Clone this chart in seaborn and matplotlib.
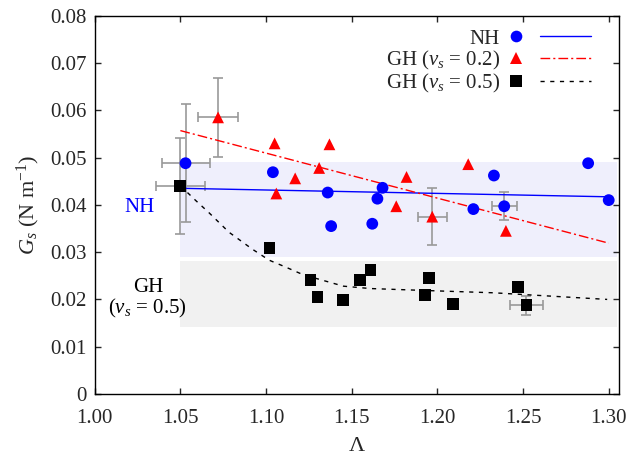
import numpy as np
import pandas as pd
import matplotlib
matplotlib.use("Agg")
import matplotlib.pyplot as plt
import seaborn as sns
from matplotlib.lines import Line2D
from matplotlib.legend_handler import HandlerBase

# --- data ---
nh_x = [1.053, 1.104, 1.136, 1.138, 1.162, 1.165, 1.168, 1.221, 1.233, 1.239, 1.288, 1.300]
nh_y = [0.0488, 0.0469, 0.0426, 0.0355, 0.0360, 0.0413, 0.0436, 0.0391, 0.0462, 0.0397, 0.0488, 0.0410]

gh2_x = [1.072, 1.105, 1.106, 1.117, 1.131, 1.137, 1.176, 1.182, 1.197, 1.218, 1.240]
gh2_y = [0.0585, 0.0530, 0.0424, 0.0456, 0.0478, 0.0528, 0.0397, 0.0459, 0.0375, 0.0486, 0.0345]

gh5_x = [1.050, 1.102, 1.126, 1.130, 1.145, 1.155, 1.161, 1.193, 1.195, 1.209, 1.247, 1.252]
gh5_y = [0.0440, 0.0309, 0.0241, 0.0205, 0.0199, 0.0241, 0.0262, 0.0209, 0.0246, 0.0190, 0.0227, 0.0188]

# points carrying error bars
err_x = [1.053, 1.072, 1.050, 1.197, 1.239, 1.252]
err_y = [0.0488, 0.0585, 0.0440, 0.0375, 0.0397, 0.0188]
err_dx = [0.0140, 0.0117, 0.0142, 0.0086, 0.0074, 0.0096]
err_dy = [0.0125, 0.0083, 0.0101, 0.0060, 0.0030, 0.0020]

# fitted curves
fit_nh_x = [1.05, 1.30]
fit_nh_y = [0.0435, 0.0417]
fit_gh2_x = [1.05, 1.30]
fit_gh2_y = [0.0557, 0.0319]
fit_gh5_x = [1.050, 1.0547, 1.059, 1.0668, 1.0784, 1.0921, 1.1018, 1.1117, 1.1218,
             1.1452, 1.1608, 1.200, 1.2328, 1.2991]
fit_gh5_y = [0.0440, 0.0424, 0.0409, 0.0383, 0.0342, 0.0306, 0.0283, 0.0268, 0.0252,
             0.0228, 0.0223, 0.0218, 0.0214, 0.0200]

# shaded ranges
band_x = [1.05, 1.305]
nh_band = (0.0290, 0.0490)
gh_band = (0.0141, 0.0282)

labels = ["NH", r"GH ($v_s$ = 0.2)", r"GH ($v_s$ = 0.5)"]
xticks = [1.00, 1.05, 1.10, 1.15, 1.20, 1.25, 1.30]
xtick_labels = ["1.00", "1.05", "1.10", "1.15", "1.20", "1.25", "1.30"]
yticks = [0, 0.01, 0.02, 0.03, 0.04, 0.05, 0.06, 0.07, 0.08]
ytick_labels = ["0", "0.01", "0.02", "0.03", "0.04", "0.05", "0.06", "0.07", "0.08"]

COLORS = {labels[0]: "#0000ff", labels[1]: "#ff0000", labels[2]: "#000000"}
MARKERS = {labels[0]: "o", labels[1]: "^", labels[2]: "s"}
STYLES = {labels[0]: "-", labels[1]: (0, (7, 2.2, 1.5, 2.2)), labels[2]: (0, (3, 4))}

sns.set_style("ticks")
plt.rcParams["font.family"] = ["Liberation Serif", "DejaVu Serif"]
plt.rcParams["mathtext.fontset"] = "custom"
plt.rcParams["mathtext.rm"] = "Liberation Serif"
plt.rcParams["mathtext.it"] = "Liberation Serif:italic"
plt.rcParams["font.size"] = 15

df = pd.DataFrame({
    "lam": nh_x + gh2_x + gh5_x,
    "G": nh_y + gh2_y + gh5_y,
    "group": [labels[0]] * len(nh_x) + [labels[1]] * len(gh2_x) + [labels[2]] * len(gh5_x),
})

fig = plt.figure(figsize=(6.26, 4.55), dpi=100)
ax = fig.add_axes([0.1513, 0.1341, 0.8375, 0.8314])

ax.fill_between(band_x, nh_band[0], nh_band[1], color="#efeffc", lw=0, zorder=0)
ax.fill_between(band_x, gh_band[0], gh_band[1], color="#f1f1f1", lw=0, zorder=0)

ax.errorbar(err_x, err_y, xerr=err_dx, yerr=err_dy, fmt="none", ecolor="#999999",
            elinewidth=1.2, capsize=3.5, capthick=1.2, zorder=1)

sns.lineplot(x=fit_nh_x, y=fit_nh_y, ax=ax, color=COLORS[labels[0]], lw=1.0,
             linestyle=STYLES[labels[0]], zorder=2)
sns.lineplot(x=fit_gh2_x, y=fit_gh2_y, ax=ax, color=COLORS[labels[1]], lw=1.0,
             linestyle=STYLES[labels[1]], zorder=2)
sns.lineplot(x=fit_gh5_x, y=fit_gh5_y, ax=ax, color=COLORS[labels[2]], lw=1.0,
             linestyle=STYLES[labels[2]], zorder=2, sort=False)

sns.scatterplot(data=df, x="lam", y="G", hue="group", style="group", palette=COLORS,
                markers=MARKERS, s=72, linewidth=0, legend=False, ax=ax, zorder=3)

ax.text(1.026, 0.0385, "NH", color="#0000ff", ha="center", va="baseline", fontsize=15)
ax.text(1.031, 0.0216, "GH", color="black", ha="center", va="baseline", fontsize=15)
ax.text(1.031, 0.0170, r"($v_s$ = 0.5)", color="black", ha="center", va="baseline", fontsize=15)


class MarkerThenLine(HandlerBase):
    # gnuplot-like key: marker, gap, then the line sample
    def create_artists(self, legend, orig_handle, xdescent, ydescent, width, height, fontsize, trans):
        mk, ln = orig_handle
        y = 0.5 * height - ydescent
        x0 = -xdescent
        m = Line2D([x0 + 0.4 * fontsize], [y])
        m.update_from(mk)
        m.set_transform(trans)
        l = Line2D([x0 + 1.55 * fontsize, x0 + width], [y, y])
        l.update_from(ln)
        l.set_transform(trans)
        return [m, l]


handles = []
for lab in labels:
    mk = Line2D([], [], linestyle="none", marker=MARKERS[lab], markersize=8.4,
                color=COLORS[lab], markeredgewidth=0)
    ln = Line2D([], [], linestyle=STYLES[lab], color=COLORS[lab], lw=1.0)
    handles.append((mk, ln))

ax.legend(handles, labels, handler_map={tuple: MarkerThenLine()}, loc="upper right",
          bbox_to_anchor=(0.9466, 0.965), frameon=False, markerfirst=False,
          handlelength=4.0, handletextpad=0.37, labelspacing=0.0, borderpad=0,
          borderaxespad=0, fontsize=15)

ax.set_xlim(1.0, 1.306)
ax.set_ylim(0, 0.08)
ax.set_xticks(xticks)
ax.set_xticklabels(xtick_labels)
ax.set_yticks(yticks)
ax.set_yticklabels(ytick_labels)
ax.tick_params(direction="in", length=4, width=1, top=True, right=True, labelsize=15, pad=11)
ax.tick_params(axis="y", pad=6)
for sp in ax.spines.values():
    sp.set_linewidth(1.0)
    sp.set_color("black")

ax.set_xlabel("Λ", fontsize=16, labelpad=6)
ax.set_ylabel(r"$G_s$ (N m$^{-1}$)", fontsize=16, labelpad=6)

fig.savefig("out.png", dpi=100)
